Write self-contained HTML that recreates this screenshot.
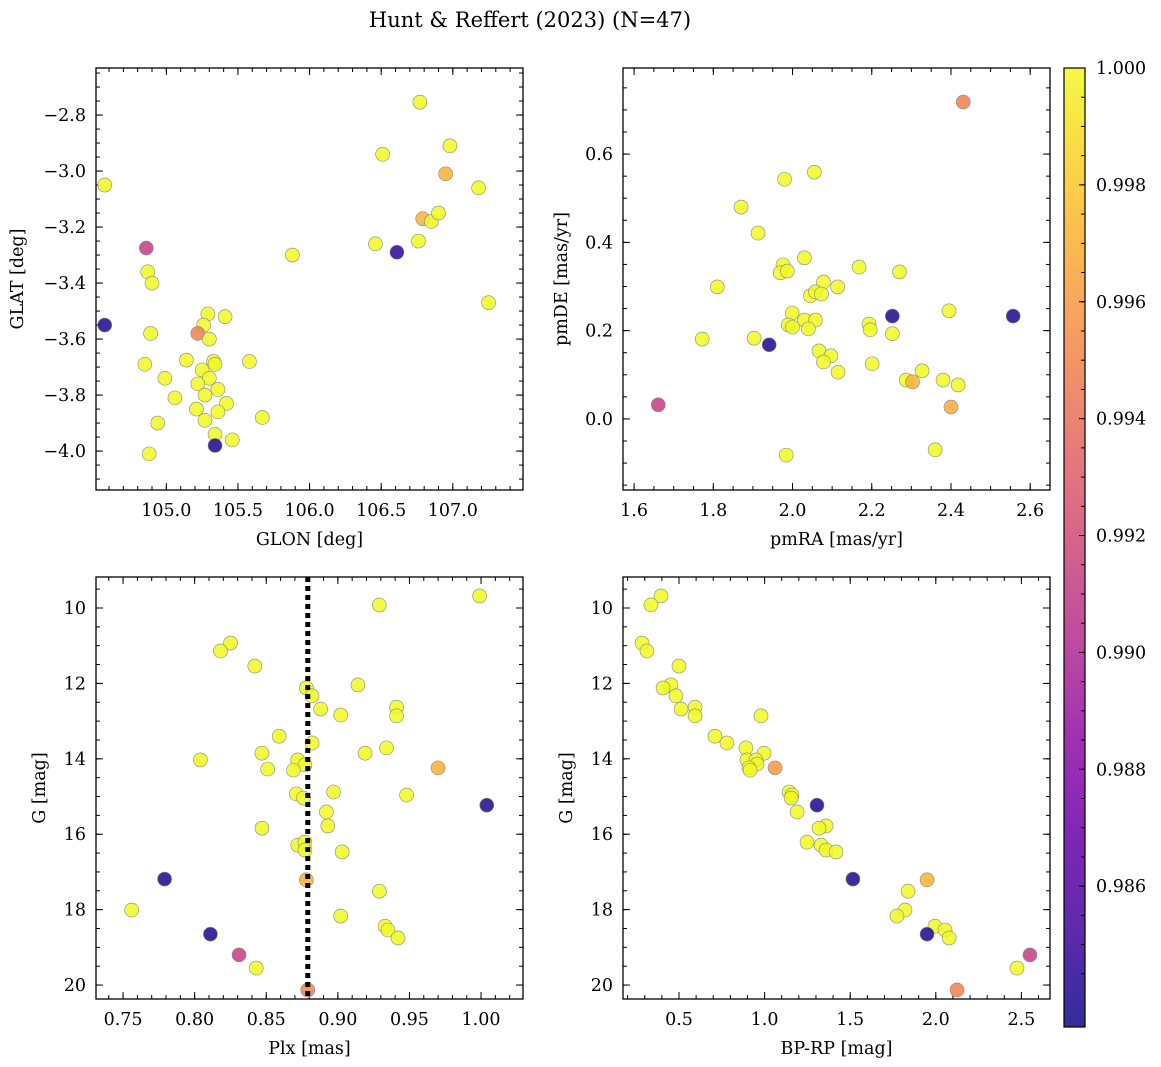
<!DOCTYPE html>
<html><head><meta charset="utf-8"><style>
body{margin:0;background:#fff;}
svg{display:block;font-family:"DejaVu Serif","Liberation Serif",serif;}
</style></head><body>
<svg id="fig" width="1161" height="1067" viewBox="0 0 1161 1067" xmlns="http://www.w3.org/2000/svg">
<text x="530" y="27" font-size="21" text-anchor="middle">Hunt &amp; Reffert (2023) (N=47)</text>
</svg>
<script>
// Panel 1: GLON vs GLAT
const glon1=[106.77,106.51,106.98,106.95,107.18,104.57,106.79,106.85,106.90,106.76,106.46,105.88,106.61,104.86,104.87,104.90,107.25,104.57,105.29,105.41,105.26,105.22,104.89,105.30,104.85,105.14,105.33,105.34,105.58,105.25,104.99,105.30,105.22,105.36,105.27,105.06,105.42,105.21,105.36,105.27,105.67,104.94,105.34,105.46,105.34,104.88];
const glat1=[-2.754,-2.94,-2.91,-3.01,-3.06,-3.05,-3.17,-3.18,-3.15,-3.25,-3.26,-3.30,-3.29,-3.275,-3.36,-3.40,-3.47,-3.55,-3.51,-3.52,-3.55,-3.58,-3.58,-3.60,-3.69,-3.675,-3.68,-3.69,-3.68,-3.71,-3.74,-3.74,-3.76,-3.78,-3.80,-3.81,-3.83,-3.85,-3.86,-3.89,-3.88,-3.90,-3.94,-3.96,-3.98,-4.01];
const prob1=[1,1,1,0.9972,1,1,0.9972,1,1,1,1,1,0.9845,0.9912,1,1,1,0.9840,1,1,1,0.9948,1,1,1,1,1,1,1,1,1,1,1,1,1,1,1,1,1,1,1,1,1,1,0.9840,1];
// Panel 2: pmRA vs pmDE
const pmra2=[2.431,2.055,1.98,1.87,1.913,2.03,2.168,2.27,1.81,1.976,1.969,1.987,2.078,2.045,2.058,2.073,2.114,2.395,2.252,2.557,1.999,2.03,2.058,1.989,2.0,2.04,2.193,2.196,2.252,1.903,1.772,1.941,2.067,2.097,2.078,2.115,2.201,2.327,2.287,2.303,2.38,2.418,2.40,1.661,2.36,1.984];
const pmde2=[0.718,0.559,0.543,0.48,0.421,0.365,0.344,0.333,0.299,0.349,0.331,0.335,0.31,0.279,0.288,0.283,0.299,0.245,0.233,0.233,0.24,0.224,0.224,0.213,0.208,0.204,0.215,0.202,0.193,0.183,0.181,0.168,0.154,0.143,0.129,0.106,0.125,0.109,0.088,0.084,0.088,0.077,0.027,0.032,-0.07,-0.082];
const prob2=[0.9948,1,1,1,1,1,1,1,1,1,1,1,1,1,1,1,1,1,0.9840,0.9840,1,1,1,1,1,1,1,1,1,1,1,0.9840,1,1,1,1,1,1,1,0.9972,1,1,0.9968,0.9912,1,1];
// Panel 3: Plx vs G
const plx3=[0.999,0.929,0.825,0.818,0.842,0.878,0.914,0.882,0.888,0.941,0.941,0.902,0.859,0.882,0.934,0.847,0.919,0.804,0.872,0.877,0.851,0.869,0.970,0.871,0.897,0.876,0.948,1.004,0.892,0.893,0.847,0.872,0.877,0.877,0.903,0.878,0.779,0.929,0.756,0.902,0.933,0.935,0.942,0.811,0.831,0.843,0.879];
const g3=[9.68,9.92,10.93,11.14,11.54,12.12,12.04,12.33,12.68,12.63,12.86,12.84,13.40,13.58,13.71,13.85,13.85,14.03,14.03,14.16,14.27,14.30,14.24,14.93,14.88,15.04,14.96,15.23,15.41,15.78,15.84,16.29,16.21,16.42,16.47,17.21,17.19,17.51,18.01,18.17,18.44,18.54,18.75,18.65,19.20,19.55,20.13];
const prob3=[1,1,1,1,1,1,1,1,1,1,1,1,1,1,1,1,1,1,1,1,1,1,0.9970,1,1,1,1,0.9840,1,1,1,1,1,1,1,0.9972,0.9840,1,1,1,1,1,1,0.9840,0.9912,1,0.9950];
const plxMean=0.879;
// Panel 4: BP-RP vs G
const bprp4=[0.395,0.336,0.284,0.313,0.5,0.453,0.407,0.482,0.512,0.594,0.594,0.979,0.71,0.78,0.891,0.997,0.897,0.95,0.956,0.909,0.915,1.061,1.143,1.16,1.155,1.306,1.19,1.359,1.318,1.248,1.33,1.359,1.417,1.516,1.949,1.838,1.82,1.773,1.995,2.054,1.949,2.078,2.55,2.474,2.124];
const g4=[9.68,9.92,10.93,11.14,11.54,12.04,12.12,12.33,12.68,12.63,12.86,12.86,13.40,13.58,13.71,13.85,14.03,14.03,14.14,14.24,14.30,14.24,14.88,14.96,15.04,15.23,15.41,15.78,15.84,16.21,16.29,16.42,16.47,17.19,17.21,17.51,18.01,18.17,18.44,18.54,18.65,18.75,19.20,19.55,20.13];
const prob4=[1,1,1,1,1,1,1,1,1,1,1,1,1,1,1,1,1,1,1,1,1,0.9960,1,1,1,0.9840,1,1,1,1,1,1,1,0.9840,0.9972,1,1,1,1,1,0.9840,1,0.9912,1,0.9950];
const cbTicks=[0.986,0.988,0.990,0.992,0.994,0.996,0.998,1.000];
const cMin=0.98359,cMax=1.0;

const NS="http://www.w3.org/2000/svg";
const svg=document.getElementById('fig');
function el(tag,attrs,parent){const e=document.createElementNS(NS,tag);for(const k in attrs)e.setAttribute(k,attrs[k]);(parent||svg).appendChild(e);return e;}
const stops=[[13,8,135],[65,4,157],[106,0,168],[143,13,164],[177,42,144],[204,71,120],[225,100,98],[242,132,75],[252,166,54],[252,206,37],[240,249,33]];
function plasma(t){t=Math.max(0,Math.min(1,t))*10;const i=Math.min(9,Math.floor(t)),f=t-i;const a=stops[i],b=stops[i+1];return 'rgb('+a.map((v,k)=>Math.round(v+(b[k]-v)*f)).join(',')+')';}
function cmap(p){return plasma((p-cMin)/(cMax-cMin));}
const FS=17.5;
function panel(o){
  const {x0,y0,w,h,xr,yr,xMaj,xMin,yMaj,yMin,xfmt,yfmt,xlabel,ylabel,name,invert,yoff}=o;
  const g=el('g',{});
  
  
  const sx=v=>x0+(v-xr[0])/(xr[1]-xr[0])*w;
  const sy=invert?(v=>y0+(v-yr[0])/(yr[1]-yr[0])*h):(v=>y0+h-(v-yr[0])/(yr[1]-yr[0])*h);
  const ticks=(lo,hi,st)=>{const a=[];for(let v=Math.ceil(lo/st-1e-6)*st;v<=hi+1e-9;v+=st)a.push(+v.toFixed(6));return a;};
  const lo=(r)=>Math.min(r[0],r[1]),hi=(r)=>Math.max(r[0],r[1]);
  const tg=el('g',{stroke:'#000','stroke-width':1},g);
  ticks(lo(xr),hi(xr),xMin).forEach(v=>{const X=sx(v);el('line',{x1:X,x2:X,y1:y0+h,y2:y0+h-4},tg);el('line',{x1:X,x2:X,y1:y0,y2:y0+4},tg);});
  ticks(lo(yr),hi(yr),yMin).forEach(v=>{const Y=sy(v);el('line',{x1:x0,x2:x0+4,y1:Y,y2:Y},tg);el('line',{x1:x0+w,x2:x0+w-4,y1:Y,y2:Y},tg);});
  ticks(lo(xr),hi(xr),xMaj).forEach(v=>{const X=sx(v);el('line',{x1:X,x2:X,y1:y0+h,y2:y0+h-7},tg);el('line',{x1:X,x2:X,y1:y0,y2:y0+7},tg);
    const t=el('text',{x:X,y:y0+h+26,'font-size':FS,'text-anchor':'middle'},g);t.textContent=xfmt(v);
    
    });
  ticks(lo(yr),hi(yr),yMaj).forEach(v=>{const Y=sy(v);el('line',{x1:x0,x2:x0+7,y1:Y,y2:Y},tg);el('line',{x1:x0+w,x2:x0+w-7,y1:Y,y2:Y},tg);
    const t=el('text',{x:x0-10,y:Y+6,'font-size':FS,'text-anchor':'end'},g);t.textContent=yfmt(v);
    
    });
  const xl=el('text',{x:x0+w/2,y:y0+h+55,'font-size':FS,'text-anchor':'middle'},g);xl.textContent=xlabel;
  
  
  const yl=el('text',{x:0,y:0,'font-size':FS,'text-anchor':'middle',transform:`translate(${x0-yoff},${y0+h/2}) rotate(-90)`},g);yl.textContent=ylabel;
  
  
  return {g,sx,sy,frame:()=>el('rect',{x:x0,y:y0,width:w,height:h,fill:'none',stroke:'#000','stroke-width':1.3},g)};
}
function scatter(p,xs,ys,cs){
  xs.forEach((v,i)=>{const c=el('circle',{cx:p.sx(v),cy:p.sy(ys[i]),r:7,fill:cmap(cs[i]),'fill-opacity':0.85,stroke:'#888','stroke-width':0.6},p.g);
    
    });
}
const f1=v=>v.toFixed(1).replace('-','\u2212'),f2=v=>v.toFixed(2).replace('-','\u2212'),f0=v=>v.toFixed(0);
const p1=panel({x0:96,y0:68,w:427,h:422,xr:[104.509,107.49],yr:[-4.139,-2.632],xMaj:0.5,xMin:0.1,yMaj:0.2,yMin:0.05,xfmt:f1,yfmt:f1,xlabel:'GLON [deg]',ylabel:'GLAT [deg]',name:'glon-glat-panel',yoff:73});
scatter(p1,glon1,glat1,prob1);p1.frame();
const p2=panel({x0:623,y0:68,w:427,h:422,xr:[1.572,2.650],yr:[-0.161,0.795],xMaj:0.2,xMin:0.05,yMaj:0.2,yMin:0.05,xfmt:f1,yfmt:f1,xlabel:'pmRA [mas/yr]',ylabel:'pmDE [mas/yr]',name:'pm-panel',yoff:56});
scatter(p2,pmra2,pmde2,prob2);p2.frame();
const p3=panel({x0:96,y0:577,w:427,h:422,xr:[0.7311,1.0293],yr:[9.178,20.37],invert:true,xMaj:0.05,xMin:0.01,yMaj:2,yMin:0.5,xfmt:f2,yfmt:f0,xlabel:'Plx [mas]',ylabel:'G [mag]',name:'plx-g-panel',yoff:51});
scatter(p3,plx3,g3,prob3);
const ml=el('line',{x1:p3.sx(plxMean),x2:p3.sx(plxMean),y1:577,y2:999,stroke:'#000','stroke-width':5,'stroke-dasharray':'5,4'},p3.g);


p3.frame();
const p4=panel({x0:623,y0:577,w:427,h:422,xr:[0.173,2.667],yr:[9.178,20.37],invert:true,xMaj:0.5,xMin:0.1,yMaj:2,yMin:0.5,xfmt:f1,yfmt:f0,xlabel:'BP-RP [mag]',ylabel:'G [mag]',name:'cmd-panel',yoff:51});
scatter(p4,bprp4,g4,prob4);p4.frame();
// colorbar
const cb=el('g',{});


const defs=el('defs',{},cb);const lg=el('linearGradient',{id:'cbg',x1:0,y1:1,x2:0,y2:0},defs);
for(let i=0;i<=10;i++)el('stop',{offset:i/10,'stop-color':plasma(i/10),'stop-opacity':0.85},lg);
el('rect',{x:1064,y:68,width:21,height:959,fill:'url(#cbg)',stroke:'#000','stroke-width':1.2},cb);
const cy=v=>68+(cMax-v)/(cMax-cMin)*959;
cbTicks.forEach(v=>{const Y=cy(v);el('line',{x1:1079,x2:1085,y1:Y,y2:Y,stroke:'#000'},cb);
  const t=el('text',{x:1096,y:Y+6,'font-size':FS,},cb);t.textContent=v.toFixed(3);
  
  });
for(let v=0.9845;v<1;v+=0.0005){const Y=cy(v);el('line',{x1:1081,x2:1085,y1:Y,y2:Y,stroke:'#000'},cb);}
</script>
</body></html>
